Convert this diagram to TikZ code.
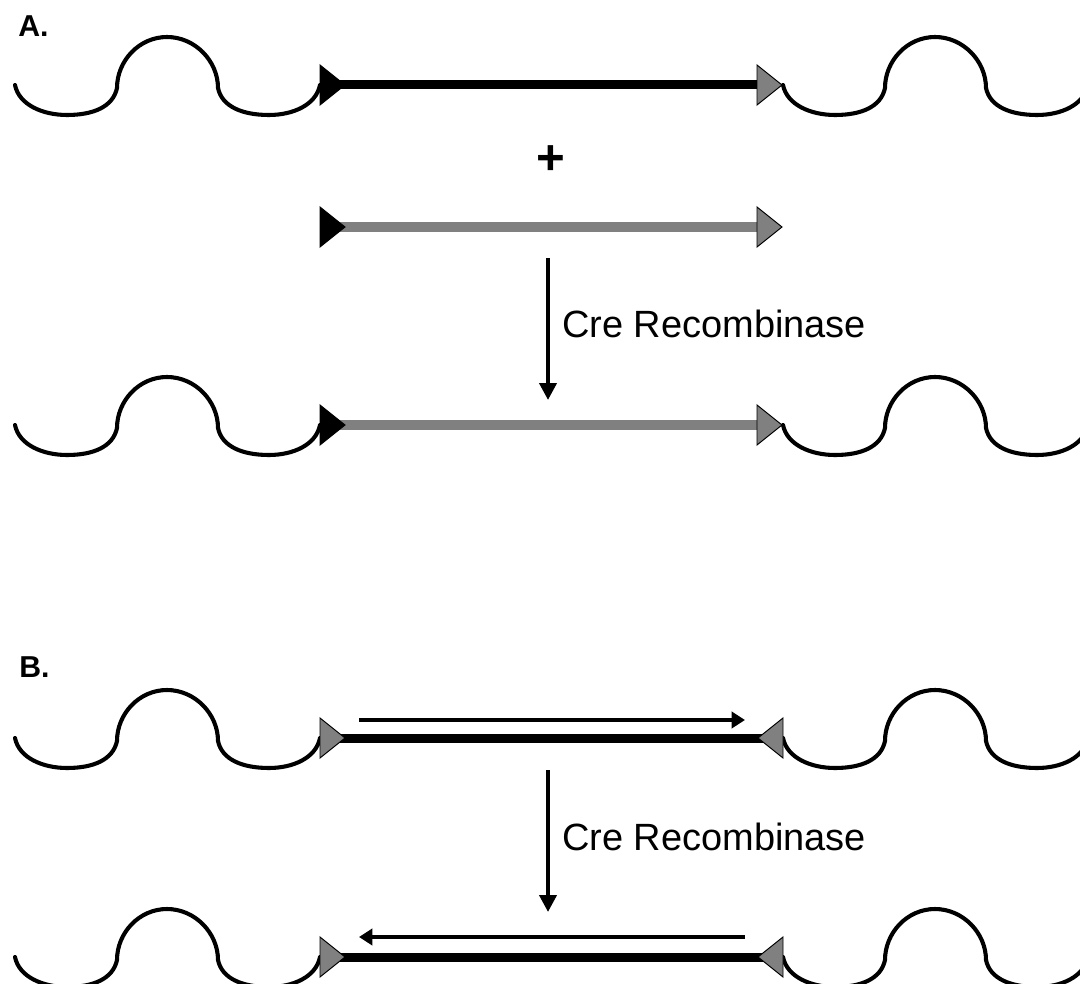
\documentclass[tikz,border=0pt]{standalone}
\usepackage{fontspec}
\setmainfont{Liberation Sans}
\usetikzlibrary{arrows.meta}

% lox sites: base at #1, pointing right or left
\newcommand{\loxR}[2]{\path[#2] (#1) +(0,-20) -- +(25,0) -- +(0,20) -- cycle;}
\newcommand{\loxL}[2]{\path[#2] (#1) +(0,-20) -- +(-25,0) -- +(0,20) -- cycle;}

\begin{document}
\begin{tikzpicture}[x=0.025cm, y=-0.025cm,
  wavy/.style={line width=2.9pt, line cap=round, line join=round},
  dnabar/.style={line width=6.4pt},
  cassette/.style={line width=7.8pt, draw=black!50},
  loxdark/.style={draw=black, line width=0.7pt, fill=black},
  loxgray/.style={draw=black, line width=0.7pt, fill=black!50},
  orient/.style={line width=2.5pt, -{Triangle[length=9.5pt,width=11.5pt]}},
  react/.style={line width=2.8pt, -{Triangle[length=12pt,width=12pt]}},
  lbl/.style={font=\fontsize{27}{32}\selectfont, inner sep=0pt},
  panel/.style={font=\fontsize{21.5}{26}\selectfont\bfseries, inner sep=0pt},
  pics/wave/.style={code={
    \draw[wavy] (0,0) .. controls (4,20) and (28,30) .. (52,30)
      .. controls (78,30) and (98,22) .. (102,3)
      .. controls (102,-24) and (124,-48) .. (152,-48)
      .. controls (180,-48) and (203,-24) .. (203,3)
      .. controls (207,22) and (228,30) .. (254,30)
      .. controls (278,30) and (301,20) .. (305,0);
  }}
]
\useasboundingbox (0,0) rectangle (1080,984);

% panel A
\node[panel, anchor=base west] (pA) at (18,37) {A.};

\coordinate (a1l) at (320,85);
\coordinate (a1r) at (757,85);
\pic at (15,85) {wave};
\pic at (783,85) {wave};
\draw[dnabar] (a1l) -- (a1r);
\loxR{a1l}{loxdark}
\loxR{a1r}{loxgray}

\node[font=\fontsize{35}{40}\selectfont\bfseries, inner sep=0pt] (plus) at (551,160) {+};

\coordinate (a2l) at (320,227);
\coordinate (a2r) at (757,227);
\draw[cassette] (a2l) -- (a2r);
\loxR{a2l}{loxdark}
\loxR{a2r}{loxgray}

\coordinate (ta) at (548,258);
\coordinate (ha) at (548,400);
\draw[react] (ta) -- (ha);
\node[lbl, anchor=base west] (creA) at (562,338) {Cre Recombinase};

\coordinate (a3l) at (320,425);
\coordinate (a3r) at (757,425);
\pic at (15,425) {wave};
\pic at (783,425) {wave};
\draw[cassette] (a3l) -- (a3r);
\loxR{a3l}{loxdark}
\loxR{a3r}{loxgray}

% panel B
\node[panel, anchor=base west] (pB) at (19,677) {B.};

\coordinate (b1l) at (320,738);
\coordinate (b1r) at (783,738);
\coordinate (b1s) at (359,720);
\coordinate (b1e) at (745,720);
\pic at (15,738) {wave};
\pic at (783,738) {wave};
\draw[dnabar] (b1l) -- (b1r);
\draw[orient] (b1s) -- (b1e);
\loxR{b1l}{loxgray}
\loxL{b1r}{loxgray}

\coordinate (tb) at (548,770);
\coordinate (hb) at (548,912);
\draw[react] (tb) -- (hb);
\node[lbl, anchor=base west] (creB) at (562,850) {Cre Recombinase};

\coordinate (b2l) at (320,957);
\coordinate (b2r) at (783,957);
\coordinate (b2s) at (745,937);
\coordinate (b2e) at (359,937);
\pic at (15,957) {wave};
\pic at (783,957) {wave};
\draw[dnabar] (b2l) -- (b2r);
\draw[orient] (b2s) -- (b2e);
\loxR{b2l}{loxgray}
\loxL{b2r}{loxgray}

\end{tikzpicture}
\end{document}
